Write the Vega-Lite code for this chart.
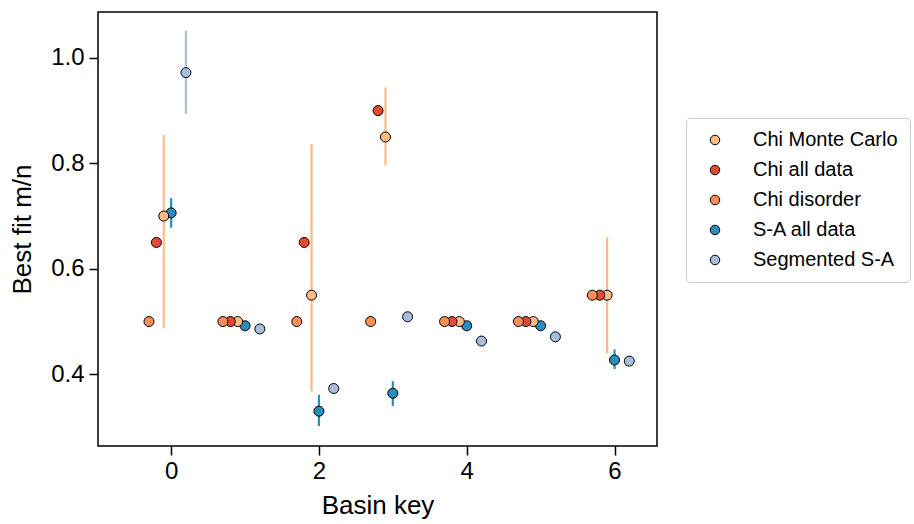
{
  "$schema": "https://vega.github.io/schema/vega-lite/v6.json",
  "width": 559,
  "height": 434,
  "autosize": "none",
  "padding": {"left": 98, "top": 12, "right": 257, "bottom": 78},
  "background": "white",
  "config": {
    "font": "Liberation Sans",
    "view": {"stroke": "black", "strokeWidth": 1.5},
    "axis": {
      "domain": false, "grid": false,
      "labelFontSize": 24, "labelColor": "black",
      "tickColor": "black", "tickSize": 9, "tickWidth": 1.5,
      "titleFontSize": 26, "titleFontWeight": "normal", "titleColor": "black"
    },
    "legend": {
      "orient": "none", "legendX": 588, "legendY": 106,
      "padding": 12, "symbolOffset": 7,
      "strokeColor": "#cccccc", "cornerRadius": 4, "fillColor": "white",
      "labelFontSize": 20, "labelColor": "black", "labelOffset": 28,
      "rowPadding": 10, "symbolSize": 90,
      "symbolStrokeColor": "black", "symbolStrokeWidth": 1, "symbolType": "circle"
    }
  },
  "datasets": {
    "points": [
      {"series": "Segmented S-A", "x": 0.2, "y": 0.972},
      {"series": "Segmented S-A", "x": 1.2, "y": 0.486},
      {"series": "Segmented S-A", "x": 2.2, "y": 0.373},
      {"series": "Segmented S-A", "x": 3.2, "y": 0.509},
      {"series": "Segmented S-A", "x": 4.2, "y": 0.463},
      {"series": "Segmented S-A", "x": 5.2, "y": 0.471},
      {"series": "Segmented S-A", "x": 6.2, "y": 0.425},
      {"series": "S-A all data", "x": 0, "y": 0.706},
      {"series": "S-A all data", "x": 1, "y": 0.492},
      {"series": "S-A all data", "x": 2, "y": 0.33},
      {"series": "S-A all data", "x": 3, "y": 0.364},
      {"series": "S-A all data", "x": 4, "y": 0.492},
      {"series": "S-A all data", "x": 5, "y": 0.492},
      {"series": "S-A all data", "x": 6, "y": 0.427},
      {"series": "Chi Monte Carlo", "x": -0.1, "y": 0.7},
      {"series": "Chi Monte Carlo", "x": 0.9, "y": 0.5},
      {"series": "Chi Monte Carlo", "x": 1.9, "y": 0.55},
      {"series": "Chi Monte Carlo", "x": 2.9, "y": 0.85},
      {"series": "Chi Monte Carlo", "x": 3.9, "y": 0.5},
      {"series": "Chi Monte Carlo", "x": 4.9, "y": 0.5},
      {"series": "Chi Monte Carlo", "x": 5.9, "y": 0.55},
      {"series": "Chi all data", "x": -0.2, "y": 0.65},
      {"series": "Chi all data", "x": 0.8, "y": 0.5},
      {"series": "Chi all data", "x": 1.8, "y": 0.65},
      {"series": "Chi all data", "x": 2.8, "y": 0.9},
      {"series": "Chi all data", "x": 3.8, "y": 0.5},
      {"series": "Chi all data", "x": 4.8, "y": 0.5},
      {"series": "Chi all data", "x": 5.8, "y": 0.55},
      {"series": "Chi disorder", "x": -0.3, "y": 0.5},
      {"series": "Chi disorder", "x": 0.7, "y": 0.5},
      {"series": "Chi disorder", "x": 1.7, "y": 0.5},
      {"series": "Chi disorder", "x": 2.7, "y": 0.5},
      {"series": "Chi disorder", "x": 3.7, "y": 0.5},
      {"series": "Chi disorder", "x": 4.7, "y": 0.5},
      {"series": "Chi disorder", "x": 5.7, "y": 0.55}
    ],
    "errorbars": [
      {"bar": "Segmented S-A", "x": 0.2, "lo": 0.894, "hi": 1.051},
      {"bar": "S-A all data", "x": 0, "lo": 0.678, "hi": 0.734},
      {"bar": "S-A all data", "x": 2, "lo": 0.302, "hi": 0.361},
      {"bar": "S-A all data", "x": 3, "lo": 0.34, "hi": 0.387},
      {"bar": "S-A all data", "x": 6, "lo": 0.41, "hi": 0.447},
      {"bar": "Chi Monte Carlo", "x": -0.1, "lo": 0.487, "hi": 0.854},
      {"bar": "Chi Monte Carlo", "x": 1.9, "lo": 0.367, "hi": 0.837},
      {"bar": "Chi Monte Carlo", "x": 2.9, "lo": 0.796, "hi": 0.944},
      {"bar": "Chi Monte Carlo", "x": 5.9, "lo": 0.44, "hi": 0.66}
    ]
  },
  "data": {"name": "points"},
  "encoding": {
    "x": {
      "field": "x", "type": "quantitative",
      "scale": {"domain": [-0.99, 6.575], "nice": false, "zero": false},
      "axis": {"title": "Basin key", "values": [0, 2, 4, 6], "format": "d", "labelPadding": 4, "titlePadding": 9}
    }
  },
  "layer": [
    {
      "data": {"name": "errorbars"},
      "mark": {"type": "rule", "strokeWidth": 2.2},
      "encoding": {
        "y": {"field": "lo", "type": "quantitative",
          "scale": {"domain": [0.264, 1.087], "nice": false, "zero": false},
          "axis": {"title": "Best fit m/n", "values": [0.4, 0.6, 0.8, 1.0], "format": ".1f", "labelPadding": 5, "titlePadding": 15}},
        "y2": {"field": "hi"},
        "stroke": {
          "field": "bar", "type": "nominal", "legend": null,
          "scale": {
            "domain": ["Chi Monte Carlo", "Chi all data", "Chi disorder", "S-A all data", "Segmented S-A"],
            "range": ["#fdbb84", "#e34a33", "#fc8d59", "#2b8cbe", "#a6bddb"]
          }
        }
      }
    },
    {
      "mark": {"type": "point", "filled": true, "opacity": 1, "size": 100, "stroke": "black", "strokeWidth": 1},
      "encoding": {
        "y": {"field": "y", "type": "quantitative"},
        "fill": {
          "field": "series", "type": "nominal",
          "scale": {
            "domain": ["Chi Monte Carlo", "Chi all data", "Chi disorder", "S-A all data", "Segmented S-A"],
            "range": ["#fdbb84", "#e34a33", "#fc8d59", "#2b8cbe", "#a6bddb"]
          },
          "legend": {"title": null, "symbolType": "circle", "symbolStrokeColor": "black", "symbolStrokeWidth": 1}
        }
      }
    }
  ],
  "resolve": {"scale": {"fill": "independent", "stroke": "independent"}}
}
